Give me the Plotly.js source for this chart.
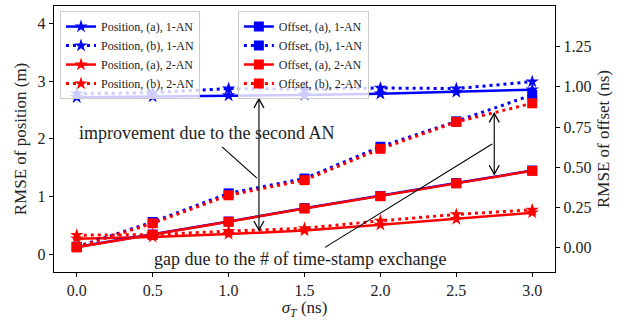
<!DOCTYPE html>
<html>
<head>
<meta charset="utf-8">
<script src="https://cdn.plot.ly/plotly-3.0.1.min.js"></script>
<style>html,body{margin:0;padding:0;background:#fff;} #chart{width:630px;height:320px;}</style>
</head>
<body>
<div id="chart"></div>
<script>
// sigma_T values (ns)
const sigmaT = [0.0, 0.5, 1.0, 1.5, 2.0, 2.5, 3.0];
// RMSE of position (m)
const posA1 = [2.72, 2.73, 2.75, 2.76, 2.78, 2.81, 2.85];
const posB1 = [2.78, 2.80, 2.87, 2.86, 2.88, 2.87, 2.99];
const posA2 = [0.27, 0.30, 0.35, 0.41, 0.51, 0.61, 0.72];
const posB2 = [0.33, 0.34, 0.40, 0.45, 0.58, 0.69, 0.77];
// RMSE of offset (ns)
const offA1 = [0.005, 0.082, 0.163, 0.246, 0.322, 0.402, 0.480];
const offB1 = [0.005, 0.160, 0.338, 0.430, 0.628, 0.786, 0.950];
const offA2 = [0.003, 0.080, 0.161, 0.244, 0.320, 0.400, 0.478];
const offB2 = [0.003, 0.152, 0.326, 0.420, 0.615, 0.782, 0.898];
const seriesNames = ["Position, (a), 1-AN", "Position, (b), 1-AN", "Position, (a), 2-AN", "Position, (b), 2-AN",
                     "Offset, (a), 1-AN", "Offset, (b), 1-AN", "Offset, (a), 2-AN", "Offset, (b), 2-AN"];
const xTicks = [0.0, 0.5, 1.0, 1.5, 2.0, 2.5, 3.0];
const xTickText = ["0.0", "0.5", "1.0", "1.5", "2.0", "2.5", "3.0"];
const yTicks = [0, 1, 2, 3, 4];
const y2Ticks = [0.00, 0.25, 0.50, 0.75, 1.00, 1.25];
const y2TickText = ["0.00", "0.25", "0.50", "0.75", "1.00", "1.25"];

const FONT = "Liberation Serif, DejaVu Serif, serif";
const BLUE = "#0000ff", RED = "#ff0000";
const DOT = "3px,4px";
const TXT = "#222222";

function tr(y, name, color, solid, symbol, axis, legend) {
  return {
    x: sigmaT, y: y, name: name, type: "scatter", mode: "lines+markers",
    yaxis: axis, legend: legend,
    line: {color: color, width: solid ? 2.5 : 3, dash: solid ? "solid" : DOT},
    marker: {symbol: symbol, size: symbol === "square" ? 10 : 10, color: color, line: {width: 0}}
  };
}

const data = [
  tr(posA1, seriesNames[0], BLUE, true, "star", "y", "legend"),
  tr(posB1, seriesNames[1], BLUE, false, "star", "y", "legend"),
  tr(posA2, seriesNames[2], RED, true, "star", "y", "legend"),
  tr(posB2, seriesNames[3], RED, false, "star", "y", "legend"),
  tr(offA1, seriesNames[4], BLUE, true, "square", "y2", "legend2"),
  tr(offB1, seriesNames[5], BLUE, false, "square", "y2", "legend2"),
  tr(offA2, seriesNames[6], RED, true, "square", "y2", "legend2"),
  tr(offB2, seriesNames[7], RED, false, "square", "y2", "legend2")
];

function chevron(x, y, dir) {
  const s = dir === "up" ? 1 : -1;
  return {type: "path", xref: "x", yref: "y", xsizemode: "pixel", ysizemode: "pixel",
    xanchor: x, yanchor: y,
    path: `M-5,${-9*s} L0,0 L5,${-9*s}`, line: {color: "black", width: 1.3}};
}

const shapes = [
  {type: "line", xref: "x", yref: "y", x0: 1.2, x1: 1.2, y0: 0.42, y1: 2.69, line: {color: "#222", width: 1.3}},
  chevron(1.2, 2.69, "up"), chevron(1.2, 0.42, "down"),
  {type: "line", xref: "x", yref: "y", x0: 2.75, x1: 2.75, y0: 1.386, y1: 2.44, line: {color: "#222", width: 1.3}},
  chevron(2.75, 2.44, "up"), chevron(2.75, 1.386, "down"),
  {type: "line", xref: "x", yref: "y", x0: 0.957, y0: 1.86, x1: 1.187, y1: 1.32, line: {color: "black", width: 1.1}},
  {type: "line", xref: "x", yref: "y", x0: 1.635, y0: 0.12, x1: 2.736, y1: 1.91, line: {color: "black", width: 1.1}}
];

const annotations = [
  {xref: "x", yref: "y", x: 0.0, y: 2.10, xanchor: "left", yanchor: "middle", showarrow: false,
   text: "improvement due to the second AN", font: {family: FONT, size: 18, color: TXT}},
  {xref: "x", yref: "y", x: 0.496, y: -0.08, xanchor: "left", yanchor: "middle", showarrow: false,
   text: "gap due to the # of time-stamp exchange", font: {family: FONT, size: 18, color: TXT}}
];

const legendCommon = {
  bgcolor: "rgba(255,255,255,0.8)", bordercolor: "#cccccc", borderwidth: 1,
  font: {family: FONT, size: 12, color: TXT}, xanchor: "left", yanchor: "top",
  itemwidth: 30, tracegroupgap: 0
};

const layout = {
  width: 630, height: 320,
  margin: {l: 54, r: 75, t: 6, b: 48},
  paper_bgcolor: "white", plot_bgcolor: "white",
  font: {family: FONT, size: 16, color: TXT},
  showlegend: true,
  legend: Object.assign({x: 0.012, y: 0.981}, legendCommon),
  legend2: Object.assign({x: 0.367, y: 0.981}, legendCommon),
  xaxis: {
    range: [-0.15, 3.15], tickvals: xTicks, ticktext: xTickText,
    showgrid: false, zeroline: false, showline: true, linecolor: "black", linewidth: 1.2, mirror: true,
    ticks: "outside", ticklen: 4, tickcolor: "black",
    tickfont: {family: FONT, size: 16, color: TXT},
    title: {text: "<i>σ</i><sub><i>T</i></sub> (ns)", font: {family: FONT, size: 17, color: TXT}, standoff: 2}
  },
  yaxis: {
    range: [-0.307, 4.3], tickvals: yTicks,
    showgrid: false, zeroline: false, showline: true, linecolor: "black", linewidth: 1.2,
    ticks: "outside", ticklen: 4, tickcolor: "black",
    tickfont: {family: FONT, size: 16, color: TXT},
    title: {text: "RMSE of position (m)", font: {family: FONT, size: 17, color: TXT}, standoff: 6}
  },
  yaxis2: {
    overlaying: "y", side: "right", range: [-0.151, 1.503], tickvals: y2Ticks, ticktext: y2TickText,
    showgrid: false, zeroline: false, showline: true, linecolor: "black", linewidth: 1.2,
    ticks: "outside", ticklen: 4, tickcolor: "black",
    tickfont: {family: FONT, size: 16, color: TXT},
    title: {text: "RMSE of offset (ns)", font: {family: FONT, size: 17, color: TXT}, standoff: 6}
  },
  shapes: shapes,
  annotations: annotations
};

Plotly.newPlot("chart", data, layout, {staticPlot: true, displayModeBar: false});
</script>
</body>
</html>
